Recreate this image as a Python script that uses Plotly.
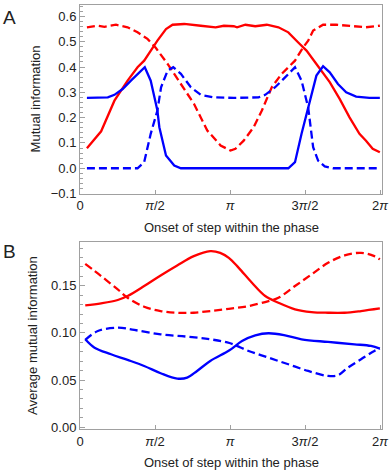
import math
import plotly.graph_objects as go

PI = math.pi

# ---- Panel A: mutual information (piecewise linear) ----
a_red_solid_x = [0.145, 0.443, 0.721, 0.997, 1.205, 1.344, 1.621, 1.801, 1.939, 2.182, 2.529,
                 2.840, 3.013, 3.221, 3.289, 3.464, 3.671, 3.913, 4.156, 4.363, 4.571, 4.675,
                 4.744, 4.951, 5.230, 5.438, 5.645, 5.853, 5.990, 6.130, 6.280]
a_red_solid_y = [0.079, 0.146, 0.267, 0.346, 0.399, 0.425, 0.504, 0.550, 0.567, 0.570, 0.563,
                 0.557, 0.563, 0.561, 0.557, 0.567, 0.561, 0.567, 0.557, 0.537, 0.497, 0.478,
                 0.465, 0.412, 0.340, 0.274, 0.201, 0.136, 0.109, 0.077, 0.063]

a_red_dash_x = [0.145, 0.374, 0.513, 0.754, 0.997, 1.205, 1.413, 1.590, 1.835, 2.113, 2.389,
                2.666, 2.944, 3.152, 3.256, 3.428, 3.636, 3.809, 4.016, 4.224, 4.503, 4.675,
                4.779, 4.883, 5.091, 5.367, 5.714, 5.990, 6.280]
a_red_dash_y = [0.557, 0.563, 0.559, 0.567, 0.557, 0.537, 0.511, 0.475, 0.412, 0.333, 0.254,
                0.149, 0.090, 0.070, 0.077, 0.109, 0.162, 0.228, 0.320, 0.373, 0.425, 0.478,
                0.504, 0.544, 0.567, 0.567, 0.561, 0.557, 0.563]

a_blue_solid_x = [0.145, 0.582, 0.721, 0.893, 1.066, 1.240, 1.357, 1.481, 1.621, 1.662, 1.801,
                  1.974, 2.113, 4.363, 4.503, 4.640, 4.814, 4.951, 5.091, 5.230, 5.402, 5.575,
                  5.783, 6.061, 6.280]
a_blue_solid_y = [0.278, 0.280, 0.290, 0.313, 0.346, 0.379, 0.399, 0.346, 0.228, 0.162, 0.050,
                  0.011, 0.000, 0.000, 0.024, 0.136, 0.267, 0.366, 0.403, 0.379, 0.333, 0.300,
                  0.283, 0.278, 0.278]

a_blue_dash_x = [0.145, 1.205, 1.344, 1.481, 1.621, 1.698, 1.835, 1.953, 2.113, 2.321, 2.529,
                 2.805, 3.221, 3.740, 3.879, 4.087, 4.295, 4.503, 4.640, 4.779, 4.883, 4.987,
                 5.126, 5.300, 6.280]
a_blue_dash_y = [0.000, 0.000, 0.024, 0.136, 0.228, 0.320, 0.386, 0.399, 0.373, 0.320, 0.290,
                 0.280, 0.278, 0.280, 0.290, 0.320, 0.359, 0.399, 0.346, 0.240, 0.083, 0.030,
                 0.007, 0.000, 0.000]

# ---- Panel B: average mutual information (smooth) ----
b_red_solid_x = [0.110, 0.443, 0.790, 0.997, 1.344, 1.689, 2.036, 2.383, 2.728, 2.936, 3.117,
                 3.324, 3.601, 3.879, 4.156, 4.503, 4.848, 5.195, 5.541, 5.886, 6.280]
b_red_solid_y = [0.1292, 0.1314, 0.1349, 0.1391, 0.1497, 0.1610, 0.1716, 0.1815, 0.1868, 0.1850,
                 0.1797, 0.1690, 0.1532, 0.1391, 0.1320, 0.1250, 0.1221, 0.1214, 0.1214, 0.1232,
                 0.1260]

b_red_dash_x = [0.110, 0.443, 0.790, 0.997, 1.344, 1.689, 2.036, 2.383, 2.728, 3.117, 3.532,
                3.948, 4.156, 4.503, 4.848, 5.195, 5.541, 5.886, 6.165, 6.280]
b_red_dash_y = [0.1733, 0.1603, 0.1462, 0.1373, 0.1278, 0.1232, 0.1214, 0.1214, 0.1232, 0.1256,
                0.1285, 0.1338, 0.1373, 0.1497, 0.1620, 0.1744, 0.1822, 0.1850, 0.1815, 0.1780]

b_blue_solid_x = [0.110, 0.305, 0.650, 0.997, 1.344, 1.689, 2.036, 2.244, 2.452, 2.728, 3.130,
                  3.393, 3.671, 3.948, 4.295, 4.640, 5.195, 5.749, 6.094, 6.280]
b_blue_solid_y = [0.0932, 0.0843, 0.0773, 0.0713, 0.0649, 0.0572, 0.0515, 0.0525, 0.0596, 0.0702,
                  0.0815, 0.0914, 0.0974, 0.0996, 0.0974, 0.0932, 0.0904, 0.0879, 0.0861, 0.0833]

b_blue_dash_x = [0.110, 0.374, 0.790, 1.137, 1.689, 2.244, 2.728, 3.130, 3.532, 3.948, 4.363,
                 4.779, 5.195, 5.402, 5.610, 5.886, 6.165, 6.280]
b_blue_dash_y = [0.0925, 0.1020, 0.1055, 0.1031, 0.0985, 0.0960, 0.0932, 0.0893, 0.0808, 0.0737,
                 0.0667, 0.0596, 0.0543, 0.0550, 0.0631, 0.0720, 0.0808, 0.0833]

x_tickvals = [0, PI / 2, PI, 3 * PI / 2, 2 * PI]
x_ticktext = ["0", "<i>π</i>/2", "<i>π</i>", "3<i>π</i>/2", "2<i>π</i>"]

RED = "#ff0000"
BLUE = "#0000ff"
FRAME = "#a0a0a0"
INK = "#222222"
FONT = "Liberation Sans, Arial, sans-serif"
DASH = "8px,4px"

fig = go.Figure()


def add(x, y, color, dash, xa, ya, shape):
    fig.add_trace(go.Scatter(
        x=x, y=y, mode="lines", xaxis=xa, yaxis=ya, showlegend=False,
        line=dict(color=color, width=2.3, dash=dash, shape=shape),
    ))


add(a_red_solid_x, a_red_solid_y, RED, "solid", "x", "y", "linear")
add(a_red_dash_x, a_red_dash_y, RED, DASH, "x", "y", "linear")
add(a_blue_solid_x, a_blue_solid_y, BLUE, "solid", "x", "y", "linear")
add(a_blue_dash_x, a_blue_dash_y, BLUE, DASH, "x", "y", "linear")

add(b_red_solid_x, b_red_solid_y, RED, "solid", "x2", "y2", "spline")
add(b_red_dash_x, b_red_dash_y, RED, DASH, "x2", "y2", "spline")
add(b_blue_solid_x, b_blue_solid_y, BLUE, "solid", "x2", "y2", "spline")
add(b_blue_dash_x, b_blue_dash_y, BLUE, DASH, "x2", "y2", "spline")

xcommon = dict(range=[0, 6.325], tickvals=x_tickvals, ticktext=x_ticktext,
               showline=True, mirror=True, linecolor=FRAME, linewidth=1,
               ticks="inside", ticklen=4, tickcolor=FRAME, showgrid=False, zeroline=False,
               tickfont=dict(size=13, color=INK, family=FONT))
ycommon = dict(showline=True, mirror=True, linecolor=FRAME, linewidth=1,
               ticks="inside", ticklen=5, tickcolor=FRAME, showgrid=False, zeroline=False,
               tickfont=dict(size=13, color=INK, family=FONT))

fig.update_layout(
    width=392, height=473,
    margin=dict(l=80, r=8, t=4, b=44),
    paper_bgcolor="white", plot_bgcolor="white",
    font=dict(family=FONT, color=INK),
    xaxis=dict(domain=[0, 1], anchor="y", **xcommon),
    yaxis=dict(domain=[0.5553, 1], anchor="x", range=[-0.1, 0.645], tick0=0, dtick=0.1,
               tickformat=".1f",
               minor=dict(dtick=0.02, tick0=0, ticks="inside", ticklen=3, tickcolor=FRAME),
               **ycommon),
    xaxis2=dict(domain=[0, 1], anchor="y2", **xcommon),
    yaxis2=dict(domain=[0, 0.44], anchor="x2", range=[-0.002, 0.196], tick0=0, dtick=0.05,
                tickformat=".2f",
                minor=dict(dtick=0.01, tick0=0, ticks="inside", ticklen=3, tickcolor=FRAME),
                **ycommon),
)

labels = [
    dict(text="A", x=-0.263, y=1.0, size=19, angle=0, xa="left", ya="top"),
    dict(text="B", x=-0.263, y=0.447, size=19, angle=0, xa="left", ya="top"),
    dict(text="Mutual information", x=-0.148, y=0.778, size=13, angle=-90, xa="center", ya="middle"),
    dict(text="Average mutual information", x=-0.155, y=0.22, size=13, angle=-90, xa="center", ya="middle"),
    dict(text="Onset of step within the phase", x=0.5, y=0.476, size=13, angle=0, xa="center", ya="middle"),
    dict(text="Onset of step within the phase", x=0.5, y=-0.08, size=13, angle=0, xa="center", ya="middle"),
]
for a in labels:
    fig.add_annotation(text=a["text"], x=a["x"], y=a["y"], xref="paper", yref="paper",
                       showarrow=False, textangle=a["angle"], xanchor=a["xa"], yanchor=a["ya"],
                       font=dict(size=a["size"], color=INK, family=FONT))

# the page body has a default 8px margin; drop it so the figure sits at the corner
fig.write_html("out.html", config={"displayModeBar": False},
               post_script="document.body.style.margin='0px';")
